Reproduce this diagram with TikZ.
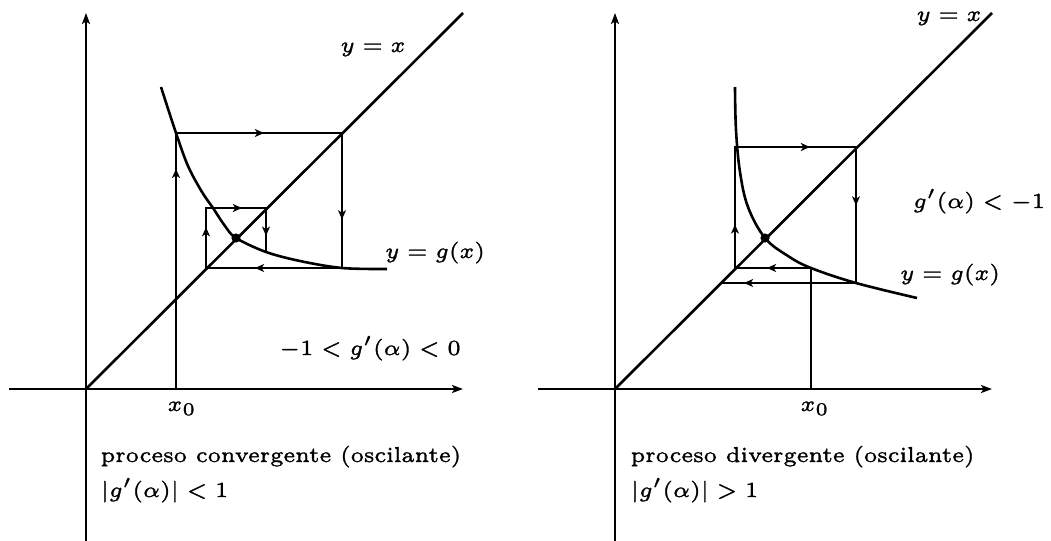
\documentclass[tikz,border=0pt]{standalone}
\usetikzlibrary{arrows.meta,decorations.markings}
\newcommand\heavytext{\special{pdf:literal direct 2 Tr 0.08 w}}
\begin{document}
\begin{tikzpicture}[x=0.5pt,y=-0.5pt,
  ln/.style={line width=1.3pt,line join=miter},
  axis/.style={line width=1.3pt,-{Stealth[length=5.5pt,width=4pt,inset=1.3pt]}},
  arrowat/.style={postaction={decorate},decoration={markings,mark=at position #1 with {\arrow{Stealth[length=4.6pt,width=4pt,inset=1.3pt]}}}},
  lbl/.style={scale=1.8,font=\fontsize{6}{7}\selectfont\heavytext,inner sep=0pt},
  fixdot/.style={circle,fill=black,inner sep=0pt,minimum size=4.6pt}]
\useasboundingbox (0,0) rectangle (1051,541);
% ---------------- left panel ----------------
\coordinate (xL1) at (9,389);
\coordinate (xR1) at (463,389);
\coordinate (yB1) at (86,541);
\coordinate (yT1) at (86,13);
\coordinate (O1) at (86,389);
\coordinate (D1) at (463,13);
\coordinate (P0) at (176,389);
\coordinate (P1) at (176,133);
\coordinate (Q1) at (342,133);
\coordinate (Q1b) at (342,268);
\coordinate (P2) at (206,268);
\coordinate (P2b) at (206,208);
\coordinate (Q2) at (266,208);
\coordinate (Q2b) at (266,252);
\draw[axis] (xL1) -- (xR1);
\draw[axis] (yB1) -- (yT1);
\draw[ln] (O1) -- (D1);
\draw[ln] plot[smooth,tension=0.55] coordinates {(161,87) (176,133) (188,166) (202,192) (213,208) (225,226) (236,238) (266,252) (300,261) (342,268) (387,269)};
\draw[ln] (P0) -- (P1) -- (Q1) -- (Q1b) -- (P2) -- (P2b) -- (Q2) -- (Q2b);
\draw[ln,arrowat=0.86] (P0) -- (P1);
\draw[ln,arrowat=0.53] (P1) -- (Q1);
\draw[ln,arrowat=0.64] (Q1) -- (Q1b);
\draw[ln,arrowat=0.64] (Q1b) -- (P2);
\draw[ln,arrowat=0.68] (P2) -- (P2b);
\draw[ln,arrowat=0.6] (P2b) -- (Q2);
\draw[ln,arrowat=0.63] (Q2) -- (Q2b);
\node[fixdot] (F1) at (236,238) {};
\node[lbl,anchor=base] (yx1) at (373,52) {$y=x$};
\node[lbl,anchor=base] (yg1) at (435,258) {$y=g(x)$};
\node[lbl,anchor=base] (c1) at (370,355) {$-1<g'(\alpha)<0$};
\node[lbl,anchor=base] (x01) at (182,411) {$x_0$};
\node[lbl,anchor=base west] (t1) at (100,462) {proceso convergente (oscilante)};
\node[lbl,anchor=base west] (t1b) at (100,497) {$|g'(\alpha)|<1$};
% ---------------- right panel ----------------
\coordinate (xL2) at (538,389);
\coordinate (xR2) at (992,389);
\coordinate (yB2) at (615,541);
\coordinate (yT2) at (615,13);
\coordinate (O2) at (615,389);
\coordinate (D2) at (992,13);
\coordinate (R0) at (811,389);
\coordinate (R1) at (811,268);
\coordinate (R2) at (735,268);
\coordinate (R3) at (735,147);
\coordinate (R4) at (856,147);
\coordinate (R5) at (856,283);
\coordinate (R6) at (721,283);
\draw[axis] (xL2) -- (xR2);
\draw[axis] (yB2) -- (yT2);
\draw[ln] (O2) -- (D2);
\draw[ln] plot[smooth,tension=0.6] coordinates {(735,87) (736,130) (740,172) (748,207) (765,238) (788,256) (811,268) (856,283) (917,298)};
\draw[ln] (R0) -- (R1) -- (R2) -- (R3) -- (R4) -- (R5) -- (R6);
\draw[ln,arrowat=0.58] (R1) -- (R2);
\draw[ln,arrowat=0.36] (R2) -- (R3);
\draw[ln,arrowat=0.62] (R3) -- (R4);
\draw[ln,arrowat=0.43] (R4) -- (R5);
\draw[ln,arrowat=0.83] (R5) -- (R6);
\node[fixdot] (F2) at (765,238) {};
\node[lbl,anchor=base] (yx2) at (949,21) {$y=x$};
\node[lbl,anchor=base] (c2) at (979,208) {$g'(\alpha)<-1$};
\node[lbl,anchor=base] (yg2) at (950,280) {$y=g(x)$};
\node[lbl,anchor=base] (x02) at (815,411) {$x_0$};
\node[lbl,anchor=base west] (t2) at (630,462) {proceso divergente (oscilante)};
\node[lbl,anchor=base west] (t2b) at (630,497) {$|g'(\alpha)|>1$};
\end{tikzpicture}
\end{document}
